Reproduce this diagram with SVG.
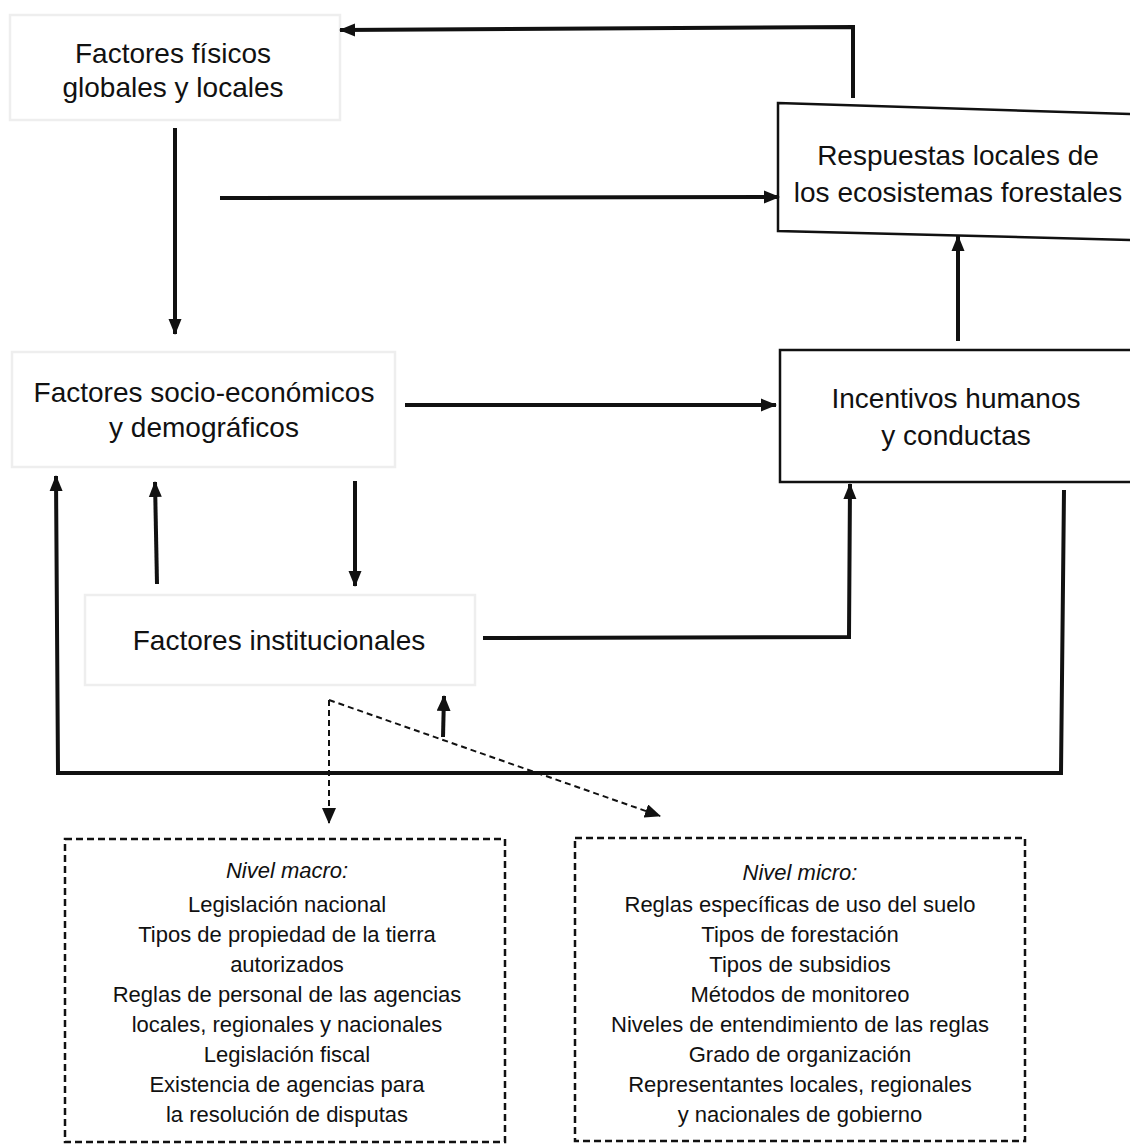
<svg xmlns="http://www.w3.org/2000/svg" width="1130" height="1144" viewBox="0 0 1130 1144">
<style>
.t{font-family:"Liberation Sans",Arial,sans-serif;font-size:28px;fill:#111;text-anchor:middle}
.s{font-family:"Liberation Sans",Arial,sans-serif;font-size:22px;fill:#111;text-anchor:middle}
.i{font-style:italic}
.faint{fill:none;stroke:#eeeeee;stroke-width:2.5}
.box{fill:#fff;stroke:#111;stroke-width:2.5}
.dbox{fill:#fff;stroke:#111;stroke-width:2.5;stroke-dasharray:7 4}
.c{fill:none;stroke:#111;stroke-width:4}
.d{fill:none;stroke:#111;stroke-width:2;stroke-dasharray:6 4}
</style>
<defs>
<marker id="ah" markerUnits="userSpaceOnUse" markerWidth="16" markerHeight="16" viewBox="0 0 16 16" refX="15" refY="8" orient="auto">
<path d="M0,1.5 L16,8 L0,14.5 Z" fill="#111"/>
</marker>
<marker id="ahs" markerUnits="userSpaceOnUse" markerWidth="16" markerHeight="14" viewBox="0 0 16 14" refX="15" refY="7" orient="auto">
<path d="M0,0 L16,7 L0,14 Z" fill="#111"/>
</marker>
</defs>
<rect width="1130" height="1144" fill="#fff"/>

<g id="n-fisicos">
<rect class="faint" x="10" y="15" width="330" height="105"/>
<text class="t" x="173" y="63">Factores físicos</text>
<text class="t" x="173" y="97">globales y locales</text>
</g>

<g id="n-respuestas">
<polygon class="box" points="778,103 1132,114 1132,240 778,231"/>
<text class="t" x="958" y="165">Respuestas locales de</text>
<text class="t" x="958" y="202">los ecosistemas forestales</text>
</g>

<g id="n-socio">
<rect class="faint" x="12" y="352" width="383" height="115"/>
<text class="t" x="204" y="402">Factores socio-económicos</text>
<text class="t" x="204" y="437">y demográficos</text>
</g>

<g id="n-incentivos">
<rect class="box" x="780" y="350" width="352" height="132"/>
<text class="t" x="956" y="408">Incentivos humanos</text>
<text class="t" x="956" y="445">y conductas</text>
</g>

<g id="n-institucionales">
<rect class="faint" x="85" y="595" width="390" height="90"/>
<text class="t" x="279" y="650">Factores institucionales</text>
</g>

<g id="n-macro">
<rect class="dbox" x="65" y="839" width="440" height="303"/>
<text class="s i" x="287" y="878">Nivel macro:</text>
<text class="s" x="287" y="912">Legislación nacional</text>
<text class="s" x="287" y="942">Tipos de propiedad de la tierra</text>
<text class="s" x="287" y="972">autorizados</text>
<text class="s" x="287" y="1002">Reglas de personal de las agencias</text>
<text class="s" x="287" y="1032">locales, regionales y nacionales</text>
<text class="s" x="287" y="1062">Legislación fiscal</text>
<text class="s" x="287" y="1092">Existencia de agencias para</text>
<text class="s" x="287" y="1122">la resolución de disputas</text>
</g>

<g id="n-micro">
<rect class="dbox" x="575" y="838" width="450" height="303"/>
<text class="s i" x="800" y="880">Nivel micro:</text>
<text class="s" x="800" y="912">Reglas específicas de uso del suelo</text>
<text class="s" x="800" y="942">Tipos de forestación</text>
<text class="s" x="800" y="972">Tipos de subsidios</text>
<text class="s" x="800" y="1002">Métodos de monitoreo</text>
<text class="s" x="800" y="1032">Niveles de entendimiento de las reglas</text>
<text class="s" x="800" y="1062">Grado de organización</text>
<text class="s" x="800" y="1092">Representantes locales, regionales</text>
<text class="s" x="800" y="1122">y nacionales de gobierno</text>
</g>

<g id="connectors">
<path class="c" d="M853,98 L853,27 L340,30" marker-end="url(#ah)"/>
<path class="c" d="M220,198 L779,197" marker-end="url(#ah)"/>
<path class="c" d="M175,128 L175,334" marker-end="url(#ah)"/>
<path class="c" d="M405,405 L776,405" marker-end="url(#ah)"/>
<path class="c" d="M958,341 L958,236" marker-end="url(#ah)"/>
<path class="c" d="M157,584 L155,482" marker-end="url(#ah)"/>
<path class="c" d="M355,481 L355,586" marker-end="url(#ah)"/>
<path class="c" d="M483,638 L849,637 L850,484" marker-end="url(#ah)"/>
<path class="c" d="M1064,490 L1061,773 L58,773 L56,476" marker-end="url(#ah)"/>
<path class="c" d="M443,737 L444,696" marker-end="url(#ahs)"/>
<path class="d" d="M329,700 L329,823" marker-end="url(#ahs)"/>
<path class="d" d="M329,700 L660,816" marker-end="url(#ahs)"/>
</g>
</svg>
